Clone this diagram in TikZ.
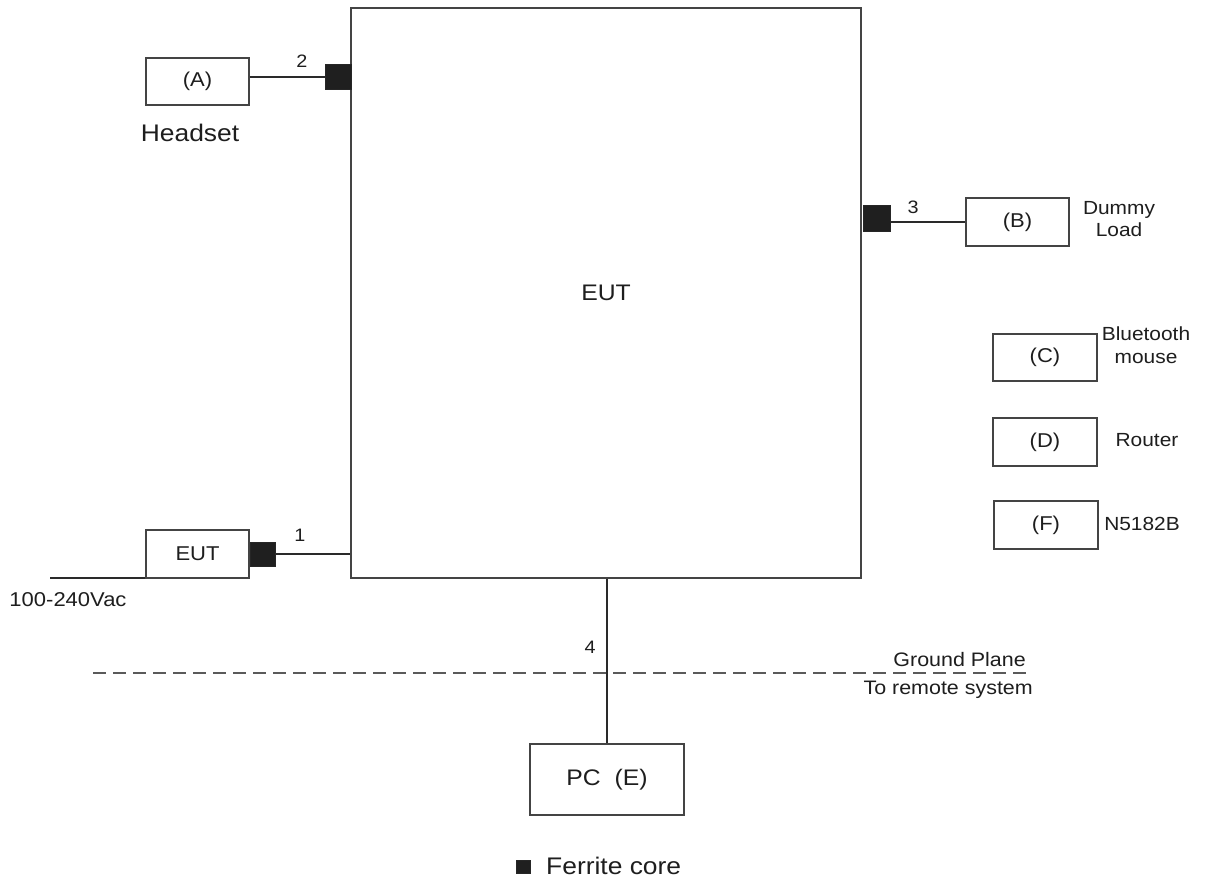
\documentclass[tikz,border=0pt]{standalone}
\usepackage{fontspec}
\setmainfont{Liberation Sans}[FakeStretch=1.1]
\begin{document}
\begin{tikzpicture}[x=1pt,y=-1pt,
  box/.style={draw=boxc,line width=1.6pt,fill=white,inner sep=0pt,text=txt},
  ferrite/.style={draw=black!85,fill=black!88,line width=0.8pt,inner sep=0pt},
  wire/.style={draw=wirec,line width=1.6pt},
  lbl/.style={text=txt,inner sep=0pt,font=\fontsize{19}{22}\selectfont,align=center},
  num/.style={text=txt,inner sep=0pt,font=\fontsize{18}{20}\selectfont}]
\definecolor{boxc}{HTML}{444444}
\definecolor{wirec}{HTML}{2a2a2a}
\definecolor{txt}{HTML}{1e1e1e}
\definecolor{dashc}{HTML}{5a5a5a}
\useasboundingbox[fill=white] (0,0) rectangle (1209,882);
% main EUT box
\node[box,minimum width=510pt,minimum height=570pt,font=\fontsize{22.5}{24}\selectfont] (main) at (606,293) {EUT};
% Headset
\node[box,minimum width=103pt,minimum height=47pt,font=\fontsize{20}{22}\selectfont] (A) at (197.5,81.5) {(A)};
\node[lbl,font=\fontsize{24}{26}\selectfont] (hs) at (190,133) {Headset};
\node[ferrite,minimum width=26pt,minimum height=25pt] (f2) at (338.5,77) {};
\draw[wire] (A.east |- f2) -- (f2.west);
\node[num] (n2) at (302,61) {2};
% Dummy load
\node[box,minimum width=103pt,minimum height=48pt,font=\fontsize{20}{22}\selectfont] (B) at (1017.5,222) {(B)};
\node[ferrite,minimum width=27pt,minimum height=26pt] (f3) at (876.5,218) {};
\draw[wire] (f3.east |- B) -- (B.west);
\node[num] (n3) at (913,207) {3};
\node[lbl] (dl) at (1119,219) {Dummy\\Load};
% C D F
\node[box,minimum width=104pt,minimum height=47pt,font=\fontsize{20}{22}\selectfont] (C) at (1045,357.5) {(C)};
\node[lbl,align=center] (bt) at (1146,345) {Bluetooth\\[1pt]mouse};
\node[box,minimum width=104pt,minimum height=48pt,font=\fontsize{20}{22}\selectfont] (D) at (1045,442) {(D)};
\node[lbl] (rt) at (1147,440) {Router};
\node[box,minimum width=104pt,minimum height=48pt,font=\fontsize{20}{22}\selectfont] (F) at (1046,525) {(F)};
\node[lbl] (sg) at (1142,524) {N5182B};
% power side
\node[box,minimum width=103pt,minimum height=48pt,font=\fontsize{20}{22}\selectfont] (E2) at (197.5,554) {EUT};
\node[ferrite,minimum width=25pt,minimum height=24pt] (f1) at (262.5,554) {};
\draw[wire] (f1.east) -- (main.west |- f1);
\node[num] (n1) at (300,535) {1};
\coordinate (pw) at (50,578);
\draw[wire] (pw) -- (pw -| E2.west);
\node[lbl,font=\fontsize{20}{22}\selectfont] (vac) at (68,600) {100-240Vac};
% PC
\node[box,minimum width=154pt,minimum height=71pt,font=\fontsize{22.5}{24}\selectfont] (PC) at (607,779.5) {PC\ \ (E)};
\draw[wire] (PC.north |- main.south) -- (PC.north);
\node[num] (n4) at (590,647) {4};
% ground plane
\coordinate (gl) at (93,673);
\coordinate (gr) at (1030,673);
\draw[draw=dashc,line width=2.2pt,dash pattern=on 13pt off 7pt] (gl) -- (gr);
\node[lbl,anchor=east,font=\fontsize{19.5}{22}\selectfont] (gp) at (1026,660) {Ground Plane};
\node[lbl,anchor=east,font=\fontsize{19.5}{22}\selectfont] (rs) at (1033,690) {To remote system};
% legend
\node[ferrite,minimum width=14pt,minimum height=13pt] (lg) at (523,866.5) {};
\node[lbl,anchor=west,font=\fontsize{24}{26}\selectfont] (lgt) at (546,866) {Ferrite core};
\end{tikzpicture}
\end{document}
